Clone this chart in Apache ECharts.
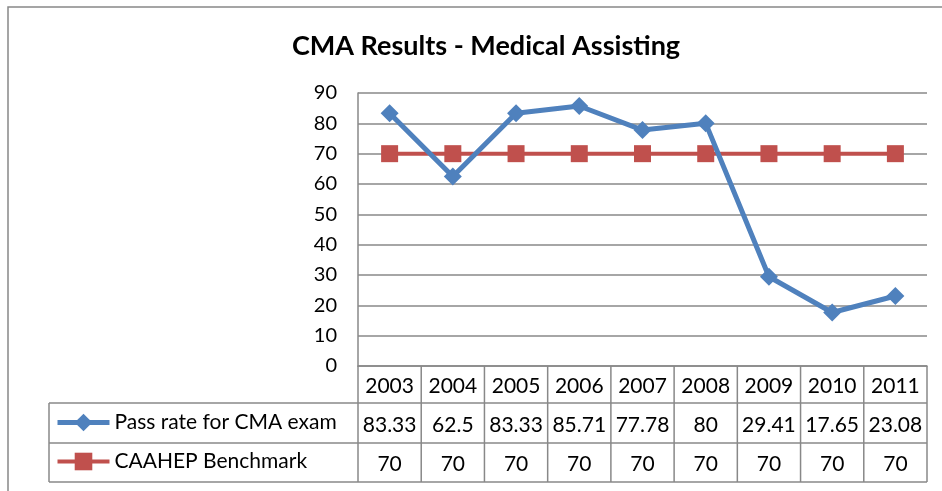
<!DOCTYPE html>
<html>
<head>
<meta charset="UTF-8"/>
<title>CMA Results - Medical Assisting</title>
<script src="https://cdn.jsdelivr.net/npm/echarts@6/dist/echarts.min.js"></script>
<style>
  html, body { margin: 0; padding: 0; background: #fff; }
  #chart { width: 942px; height: 491px; }
</style>
</head>
<body>
<div id="chart"></div>
<script type="text/javascript">
var years = ['2003', '2004', '2005', '2006', '2007', '2008', '2009', '2010', '2011'];
var passRate = [83.33, 62.5, 83.33, 85.71, 77.78, 80, 29.41, 17.65, 23.08];
var benchmark = [70, 70, 70, 70, 70, 70, 70, 70, 70];
var passLabels = ['83.33', '62.5', '83.33', '85.71', '77.78', '80', '29.41', '17.65', '23.08'];
var benchLabels = ['70', '70', '70', '70', '70', '70', '70', '70', '70'];

var FONT = 'Lato, "Noto Sans", sans-serif';
var GRID = { left: 358, right: 15, top: 93, bottom: 125 };
var BORDER = '#888888';
var BLUE = '#4F81BD';
var RED = '#C0504D';

var myChart = echarts.init(document.getElementById('chart'));
var option = {
    animation: false,
    backgroundColor: '#fff',
    title: {
        text: 'CMA Results - Medical Assisting',
        left: 481,
        top: 28,
        textAlign: 'center',
        textStyle: { fontFamily: FONT, fontSize: 27, fontWeight: 'bold', color: '#000' }
    },
    legend: {
        orient: 'vertical',
        left: 50,
        top: 407,
        itemWidth: 52,
        itemHeight: 22,
        itemGap: 18,
        textStyle: { fontFamily: FONT, fontSize: 21, color: '#000' },
        data: [
            { name: 'Pass rate for CMA exam', lineStyle: { width: 5 } },
            { name: 'CAAHEP Benchmark', lineStyle: { width: 4 } }
        ]
    },
    grid: GRID,
    xAxis: {
        type: 'category',
        data: years,
        boundaryGap: true,
        axisLine: { lineStyle: { color: BORDER, width: 1.5 } },
        axisTick: { show: false },
        axisLabel: { show: false }
    },
    yAxis: {
        type: 'value',
        min: 0,
        max: 90,
        interval: 10,
        axisLine: { show: true, lineStyle: { color: BORDER, width: 1.5 } },
        axisTick: { show: false },
        axisLabel: { fontFamily: FONT, fontSize: 20, color: '#000', margin: 21 },
        splitLine: { lineStyle: { color: BORDER, width: 1.5 } }
    },
    series: [
        {
            name: 'Pass rate for CMA exam',
            type: 'line',
            data: passRate,
            symbol: 'diamond',
            symbolSize: 18,
            color: BLUE,
            lineStyle: { width: 5, color: BLUE },
            itemStyle: { color: BLUE },
            z: 3
        },
        {
            name: 'CAAHEP Benchmark',
            type: 'line',
            data: benchmark,
            symbol: 'rect',
            symbolSize: 17,
            color: RED,
            lineStyle: { width: 4, color: RED },
            itemStyle: { color: RED },
            z: 2
        }
    ]
};
myChart.setOption(option);

// data table under the plot
function buildTable() {
    var x0 = GRID.left;
    var x1 = 942 - GRID.right;
    var yAxisBottom = 491 - GRID.bottom;
    var rows = [yAxisBottom, 403, 443, 482];
    var legendLeft = 49;
    var cw = (x1 - x0) / years.length;
    var els = [];
    var ls = { stroke: BORDER, lineWidth: 1.5 };

    // outer chart frame
    els.push({ type: 'rect', shape: { x: 8, y: 7, width: 1000, height: 1000 },
        style: { fill: null, stroke: BORDER, lineWidth: 1.5 }, silent: true });

    // horizontal lines
    for (var r = 1; r < rows.length; r++) {
        els.push({ type: 'line', shape: { x1: legendLeft, y1: rows[r], x2: x1, y2: rows[r] }, style: ls });
    }
    // vertical lines
    els.push({ type: 'line', shape: { x1: legendLeft, y1: rows[1], x2: legendLeft, y2: rows[3] }, style: ls });
    for (var c = 0; c <= years.length; c++) {
        var xx = x0 + c * cw;
        els.push({ type: 'line', shape: { x1: xx, y1: rows[0], x2: xx, y2: rows[3] }, style: ls });
    }
    // cell texts
    var lines = [years, passLabels, benchLabels];
    for (var i = 0; i < years.length; i++) {
        var cx = myChart.convertToPixel({ xAxisIndex: 0 }, years[i]);
        for (var k = 0; k < lines.length; k++) {
            els.push({
                type: 'text',
                x: cx,
                y: (rows[k] + rows[k + 1]) / 2 + 2,
                style: {
                    text: lines[k][i],
                    fontFamily: FONT,
                    fontSize: 21,
                    fill: '#000',
                    align: 'center',
                    verticalAlign: 'middle'
                },
                silent: true
            });
        }
    }
    myChart.setOption({ graphic: { elements: els } });
}
buildTable();
</script>
</body>
</html>
